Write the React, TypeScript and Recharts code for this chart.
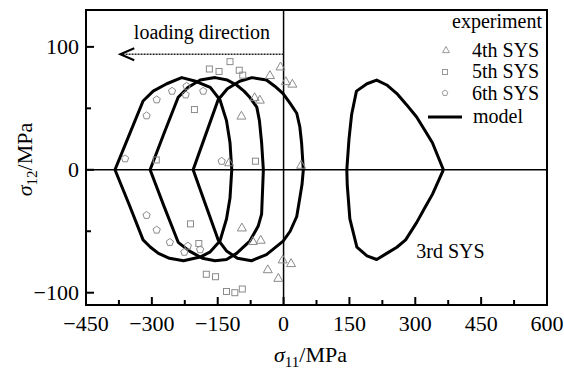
import { ScatterChart, Scatter, XAxis, YAxis, ReferenceLine, ReferenceArea, ReferenceDot, Legend } from "recharts";

const FONT = "'Liberation Serif', 'Times New Roman', serif";
const GRAY = "#8a8a8a";

// axis ticks (minor ticks carry no label)
const xTicks = [-450, -375, -300, -225, -150, -75, 0, 75, 150, 225, 300, 375, 450, 525, 600];
const xLabelled = [-450, -300, -150, 0, 150, 300, 450, 600];
const yTicks = [-100, -50, 0, 50, 100];
const yLabelled = [-100, 0, 100];

// model yield surfaces (sigma11, sigma12)
const model3rd = [
  { x: 364, y: 0 }, { x: 339, y: 22 }, { x: 322, y: 32 }, { x: 303, y: 43 }, { x: 280, y: 53 },
  { x: 258, y: 62 }, { x: 235, y: 69 }, { x: 212, y: 73 }, { x: 190, y: 70 }, { x: 166, y: 64 },
  { x: 155, y: 45 }, { x: 149, y: 25 }, { x: 144, y: 0 }, { x: 145, y: -12 }, { x: 151, y: -40 },
  { x: 167, y: -63 }, { x: 190, y: -70 }, { x: 212, y: -73 }, { x: 235, y: -68 }, { x: 258, y: -63 },
  { x: 278, y: -57 }, { x: 303, y: -43 }, { x: 323, y: -30 }, { x: 339, y: -20 }, { x: 364, y: 0 },
];
const model4th = [
  { x: -206, y: 0 }, { x: -178, y: 28 }, { x: -149, y: 57 }, { x: -128, y: 66 }, { x: -100, y: 72 },
  { x: -72, y: 75 }, { x: -39, y: 73 }, { x: -20, y: 68 }, { x: -1, y: 62 }, { x: 15, y: 54 },
  { x: 30, y: 46 }, { x: 37, y: 35 }, { x: 41, y: 22 }, { x: 45, y: 0 }, { x: 42, y: -12 },
  { x: 37, y: -23 }, { x: 30, y: -38 }, { x: 15, y: -50 }, { x: -1, y: -58 }, { x: -39, y: -69 },
  { x: -73, y: -74 }, { x: -105, y: -72 }, { x: -130, y: -66 }, { x: -149, y: -57 }, { x: -178, y: -28 },
  { x: -206, y: 0 },
];
const model5th = [
  { x: -304, y: 0 }, { x: -272, y: 30 }, { x: -240, y: 59 }, { x: -218, y: 67 }, { x: -190, y: 73 },
  { x: -156, y: 75 }, { x: -128, y: 73 }, { x: -107, y: 69 }, { x: -90, y: 64 }, { x: -77, y: 59 },
  { x: -61, y: 51 }, { x: -55, y: 40 }, { x: -50, y: 22 }, { x: -46, y: 0 }, { x: -50, y: -36 },
  { x: -58, y: -46 }, { x: -77, y: -58 }, { x: -107, y: -68 }, { x: -130, y: -73 }, { x: -156, y: -74 },
  { x: -185, y: -72 }, { x: -215, y: -66 }, { x: -240, y: -59 }, { x: -272, y: -30 }, { x: -304, y: 0 },
];
const model6th = [
  { x: -384, y: 0 }, { x: -352, y: 28 }, { x: -320, y: 56 }, { x: -297, y: 64 }, { x: -266, y: 70 },
  { x: -232, y: 75 }, { x: -200, y: 72 }, { x: -167, y: 67 }, { x: -145, y: 57 }, { x: -130, y: 40 },
  { x: -122, y: 22 }, { x: -118, y: 0 }, { x: -122, y: -23 }, { x: -130, y: -40 }, { x: -145, y: -58 },
  { x: -168, y: -67 }, { x: -190, y: -71 }, { x: -228, y: -74 }, { x: -260, y: -72 }, { x: -285, y: -68 },
  { x: -303, y: -63 }, { x: -320, y: -57 }, { x: -352, y: -28 }, { x: -384, y: 0 },
];

// experiment points
const exp4th = [
  { x: -7, y: 84 }, { x: -31, y: 77 }, { x: 5, y: 72 }, { x: 20, y: 70 }, { x: -66, y: 59 },
  { x: -54, y: 57 }, { x: -96, y: 44 }, { x: -124, y: 6 }, { x: 40, y: 4 },
  { x: -95, y: -47 }, { x: -70, y: -58 }, { x: -52, y: -57 }, { x: -36, y: -81 }, { x: -12, y: -88 },
  { x: -2, y: -73 }, { x: 17, y: -76 },
];
const exp5th = [
  { x: -122, y: 88 }, { x: -169, y: 82 }, { x: -147, y: 80 }, { x: -101, y: 81 }, { x: -93, y: 77 },
  { x: -203, y: 49 }, { x: -64, y: 7 }, { x: -290, y: 8 },
  { x: -212, y: -44 }, { x: -193, y: -60 }, { x: -176, y: -85 }, { x: -155, y: -87 }, { x: -130, y: -99 },
  { x: -111, y: -100 }, { x: -94, y: -97 },
];
const exp6th = [
  { x: -361, y: 9 }, { x: -312, y: 44 }, { x: -289, y: 57 }, { x: -254, y: 64 }, { x: -221, y: 68 },
  { x: -223, y: 61 }, { x: -183, y: 64 }, { x: -141, y: 7 },
  { x: -312, y: -37 }, { x: -289, y: -49 }, { x: -259, y: -59 }, { x: -226, y: -67 }, { x: -218, y: -62 },
  { x: -190, y: -65 },
];

const fmt = (v: number) => (v < 0 ? `\u2212${-v}` : `${v}`);

function Triangle({ cx, cy, r = 4.5, color = GRAY }: any) {
  return (
    <polygon
      points={`${cx},${cy - r} ${cx - r},${cy + r * 0.75} ${cx + r},${cy + r * 0.75}`}
      fill="none"
      stroke={color}
      strokeWidth={1}
    />
  );
}

function Square({ cx, cy, r = 3, color = GRAY }: any) {
  return <rect x={cx - r} y={cy - r} width={2 * r} height={2 * r} fill="none" stroke={color} strokeWidth={1} />;
}

function Pentagon({ cx, cy, r = 3.8, color = GRAY }: any) {
  const pts = [0, 1, 2, 3, 4]
    .map((k) => {
      const a = (-90 + 72 * k) * (Math.PI / 180);
      return `${cx + r * Math.cos(a)},${cy + r * Math.sin(a)}`;
    })
    .join(" ");
  return <polygon points={pts} fill="none" stroke={color} strokeWidth={1} />;
}

function XTick({ x, y, payload }: any) {
  const major = xLabelled.includes(payload.value);
  return (
    <g>
      <line x1={x} y1={y} x2={x} y2={y - (major ? 8 : 5)} stroke="#000" strokeWidth={2} />
      {major && (
        <text x={x} y={y + 26} textAnchor="middle" fontSize={22} fontFamily={FONT} fill="#000">
          {fmt(payload.value)}
        </text>
      )}
    </g>
  );
}

function YTick({ x, y, payload }: any) {
  const major = yLabelled.includes(payload.value);
  return (
    <g>
      <line x1={x} y1={y} x2={x + (major ? 8 : 5)} y2={y} stroke="#000" strokeWidth={2} />
      {major && (
        <text x={x - 7} y={y + 7} textAnchor="end" fontSize={22} fontFamily={FONT} fill="#000">
          {fmt(payload.value)}
        </text>
      )}
    </g>
  );
}

function XTitle({ viewBox }: any) {
  const cx = viewBox.x + viewBox.width / 2 - 6;
  return (
    <text x={cx} y={viewBox.y + 57} textAnchor="middle" fontSize={22} fontFamily={FONT} fill="#000">
      <tspan fontStyle="italic">σ</tspan>
      <tspan fontSize={15} dy={5}>11</tspan>
      <tspan dy={-5}>/MPa</tspan>
    </text>
  );
}

function YTitle({ viewBox }: any) {
  const x = viewBox.x + 6;
  const y = viewBox.y + viewBox.height / 2 + 2;
  return (
    <text x={x} y={y} transform={`rotate(-90, ${x}, ${y})`} textAnchor="middle" fontSize={22} fontFamily={FONT} fill="#000">
      <tspan fontStyle="italic">σ</tspan>
      <tspan fontSize={15} dy={5}>12</tspan>
      <tspan dy={-5}>/MPa</tspan>
    </text>
  );
}

function ArrowShape({ x1, y1, x2, y2 }: any) {
  return (
    <g>
      <line x1={x1} y1={y1} x2={x2} y2={y2} stroke="#222" strokeWidth={1.5} strokeDasharray="2 1" />
      <polyline
        points={`${x2 + 14},${y2 - 6} ${x2},${y2} ${x2 + 14},${y2 + 6}`}
        fill="none"
        stroke="#000"
        strokeWidth={2}
      />
    </g>
  );
}

function LegendBox() {
  const t = { fontSize: 20, fontFamily: FONT, fill: "#000" };
  return (
    <svg width={150} height={130}>
      <text x={122} y={18} textAnchor="end" {...t}>experiment</text>
      <Triangle cx={26} cy={40} r={3.5} color="#999" />
      <text x={52} y={47} {...t}>4th SYS</text>
      <Square cx={25} cy={62} r={2.5} color="#999" />
      <text x={52} y={68} {...t}>5th SYS</text>
      <Pentagon cx={25} cy={83} r={3} color="#999" />
      <text x={52} y={90} {...t}>6th SYS</text>
      <line x1={8} y1={107} x2={42} y2={107} stroke="#000" strokeWidth={3} />
      <text x={53} y={113} {...t}>model</text>
    </svg>
  );
}

const noDot = () => <g />;
const modelLine = { stroke: "#000", strokeWidth: 3, strokeLinejoin: "round" as const };

export default function App() {
  return (
    <div style={{ position: "fixed", left: 0, top: 0, width: 564, height: 370, background: "#fff" }}>
      <ScatterChart width={564} height={370} margin={{ top: 10, right: 17, bottom: 15, left: 26 }}>
        <XAxis
          type="number"
          dataKey="x"
          domain={[-450, 600]}
          ticks={xTicks}
          interval={0}
          height={50}
          axisLine={false}
          tickLine={false}
          tickSize={0}
          tickMargin={0}
          tick={<XTick />}
          label={XTitle}
          allowDataOverflow
        />
        <YAxis
          type="number"
          dataKey="y"
          domain={[-110, 130]}
          ticks={yTicks}
          interval={0}
          width={60}
          axisLine={false}
          tickLine={false}
          tickSize={0}
          tickMargin={0}
          tick={<YTick />}
          label={YTitle}
          allowDataOverflow
        />
        <ReferenceArea x1={-450} x2={600} y1={-110} y2={130} fill="none" fillOpacity={0} stroke="#000" strokeWidth={2} strokeOpacity={1} />
        <ReferenceLine x={0} stroke="#000" strokeWidth={1.5} />
        <ReferenceLine y={0} stroke="#000" strokeWidth={1.5} />
        <ReferenceLine
          segment={[{ x: 0, y: 94 }, { x: -372, y: 94 }]}
          shape={ArrowShape}
          label={{ value: "loading direction", position: "top", offset: 15, fontSize: 20, fontFamily: FONT, fill: "#000" }}
        />
        <ReferenceDot
          x={380}
          y={-66}
          r={0}
          fill="none"
          stroke="none"
          label={{ value: "3rd SYS", position: "center", fontSize: 20, fontFamily: FONT, fill: "#000" }}
        />
        <Scatter name="model 3rd" data={model3rd} line={modelLine} lineType="joint" shape={noDot} isAnimationActive={false} />
        <Scatter name="model 4th" data={model4th} line={modelLine} lineType="joint" shape={noDot} isAnimationActive={false} />
        <Scatter name="model 5th" data={model5th} line={modelLine} lineType="joint" shape={noDot} isAnimationActive={false} />
        <Scatter name="model 6th" data={model6th} line={modelLine} lineType="joint" shape={noDot} isAnimationActive={false} />
        <Scatter name="4th SYS" data={exp4th} shape={(p: any) => <Triangle cx={p.cx} cy={p.cy} />} isAnimationActive={false} />
        <Scatter name="5th SYS" data={exp5th} shape={(p: any) => <Square cx={p.cx} cy={p.cy} />} isAnimationActive={false} />
        <Scatter name="6th SYS" data={exp6th} shape={(p: any) => <Pentagon cx={p.cx} cy={p.cy} />} isAnimationActive={false} />
        <Legend
          layout="vertical"
          align="center"
          verticalAlign="middle"
          content={LegendBox}
          wrapperStyle={{ position: "absolute", top: 10, left: 420, width: 150, height: 130 }}
        />
      </ScatterChart>
    </div>
  );
}
